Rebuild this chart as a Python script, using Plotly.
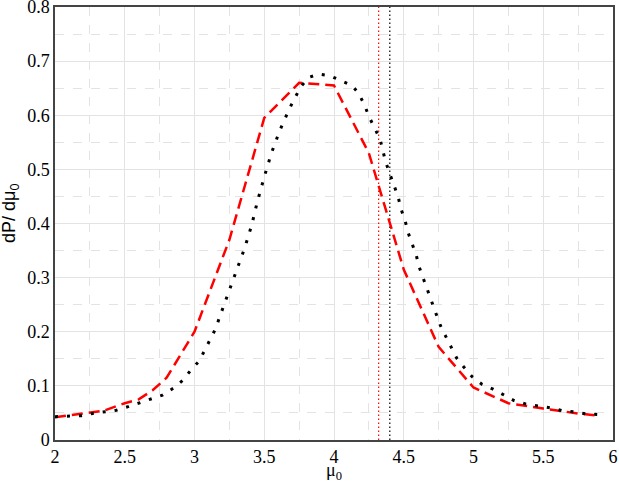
import plotly.graph_objects as go

# Red dashed curve
red_x = [2.0, 2.25, 2.35, 2.5, 2.6, 2.7, 2.8, 3.0, 3.25, 3.5, 3.75, 4.0, 4.25, 4.5, 4.75, 5.0, 5.25, 5.5, 5.75, 5.9]
red_y = [0.042, 0.05, 0.054, 0.068, 0.075, 0.092, 0.115, 0.2, 0.37, 0.595, 0.66, 0.655, 0.53, 0.315, 0.172, 0.097, 0.068, 0.058, 0.049, 0.045]

# Black dotted curve
black_x = [2.0, 2.09, 2.19, 2.27, 2.35, 2.44, 2.53, 2.61, 2.69, 2.77, 2.85, 2.92, 2.97, 3.03, 3.07,
           3.11, 3.15, 3.18, 3.21, 3.24, 3.27, 3.30, 3.33, 3.36, 3.41, 3.45, 3.50, 3.55, 3.61, 3.68,
           3.76, 3.82, 3.89, 3.97, 4.05, 4.13, 4.18, 4.22, 4.25, 4.29, 4.33, 4.35, 4.37, 4.40, 4.43,
           4.46, 4.48, 4.51, 4.53, 4.56, 4.59, 4.61, 4.64, 4.67, 4.70, 4.73, 4.76, 4.80, 4.84, 4.88,
           4.93, 4.99, 5.06, 5.14, 5.22, 5.29, 5.38, 5.47, 5.56, 5.64, 5.72, 5.81, 5.90]
black_y = [0.043, 0.044, 0.045, 0.049, 0.052, 0.055, 0.062, 0.069, 0.076, 0.083, 0.096, 0.111, 0.128, 0.145, 0.164,
           0.185, 0.205, 0.227, 0.248, 0.27, 0.29, 0.311, 0.333, 0.355, 0.397, 0.44, 0.486, 0.529, 0.571, 0.612,
           0.652, 0.67, 0.676, 0.673, 0.664, 0.655, 0.639, 0.618, 0.598, 0.577, 0.556, 0.535, 0.514, 0.492, 0.47,
           0.449, 0.427, 0.405, 0.384, 0.362, 0.341, 0.32, 0.298, 0.276, 0.255, 0.235, 0.213, 0.192, 0.172, 0.151,
           0.135, 0.117, 0.103, 0.094, 0.083, 0.073, 0.066, 0.062, 0.059, 0.054, 0.052, 0.048, 0.047]

# Vertical markers
red_vline = 4.32
black_vline = 4.40

x_ticks = [2, 2.5, 3, 3.5, 4, 4.5, 5, 5.5, 6]
x_tick_labels = ["2", "2.5", "3", "3.5", "4", "4.5", "5", "5.5", "6"]
y_ticks = [0, 0.1, 0.2, 0.3, 0.4, 0.5, 0.6, 0.7, 0.8]
y_tick_labels = ["0", "0.1", "0.2", "0.3", "0.4", "0.5", "0.6", "0.7", "0.8"]

x_title = "μ<sub>0</sub>"
y_title = "dP/ dμ<sub>0</sub>"

fig = go.Figure()
fig.add_trace(go.Scatter(x=[red_vline, red_vline], y=[0, 0.8], mode="lines",
                         line=dict(color="red", width=1.2, dash="1.5px,2.5px"), showlegend=False))
fig.add_trace(go.Scatter(x=[black_vline, black_vline], y=[0, 0.8], mode="lines",
                         line=dict(color="black", width=1.2, dash="1.5px,2.5px"), showlegend=False))
fig.add_trace(go.Scatter(x=red_x, y=red_y, mode="lines",
                         line=dict(color="red", width=2.5, dash="11px,6px"), showlegend=False))
fig.add_trace(go.Scatter(x=black_x, y=black_y, mode="lines",
                         line=dict(color="black", width=3, dash="3px,9px"), showlegend=False))

serif = "Times New Roman, Liberation Serif, DejaVu Serif, serif"
sans = "Liberation Sans, Arial, sans-serif"
fig.update_layout(
    width=619, height=483,
    margin=dict(l=55, r=6, t=7, b=43, autoexpand=False),
    plot_bgcolor="white", paper_bgcolor="white",
    showlegend=False,
    font=dict(family=serif, size=18, color="black"),
    annotations=[
        dict(text=x_title, xref="paper", yref="paper", x=0.5, y=-0.072,
             xanchor="center", yanchor="middle", showarrow=False,
             font=dict(family=serif, size=18, color="black")),
        dict(text=y_title, xref="paper", yref="paper", x=-44 / 558, y=0.522,
             xanchor="center", yanchor="middle", showarrow=False, textangle=-90,
             font=dict(family=sans, size=18, color="black")),
    ],
)
fig.update_xaxes(
    range=[2, 6], tickvals=x_ticks, ticktext=x_tick_labels,
    showgrid=True, gridcolor="#e3e3e3", gridwidth=1,
    minor=dict(dtick=0.25, tick0=2, showgrid=True, gridcolor="#e3e3e3", griddash="dash", gridwidth=1),
    showline=True, linecolor="#444", linewidth=1.5, mirror=True,
    ticks="", zeroline=False, automargin=False, ticklabeloverflow="allow",
    tickfont=dict(family=serif, size=18, color="black"),
)
fig.update_yaxes(
    range=[0, 0.8], tickvals=y_ticks, ticktext=y_tick_labels,
    showgrid=True, gridcolor="#e3e3e3", gridwidth=1,
    minor=dict(dtick=0.05, tick0=0, showgrid=True, gridcolor="#e3e3e3", griddash="dash", gridwidth=1),
    showline=True, linecolor="#444", linewidth=1.5, mirror=True,
    ticks="", zeroline=False, automargin=False, ticklabeloverflow="allow",
    tickfont=dict(family=serif, size=18, color="black"),
)

fig.write_html("out.html", config={"displayModeBar": False},
               post_script="document.body.style.margin='0';document.body.style.padding='0';")
